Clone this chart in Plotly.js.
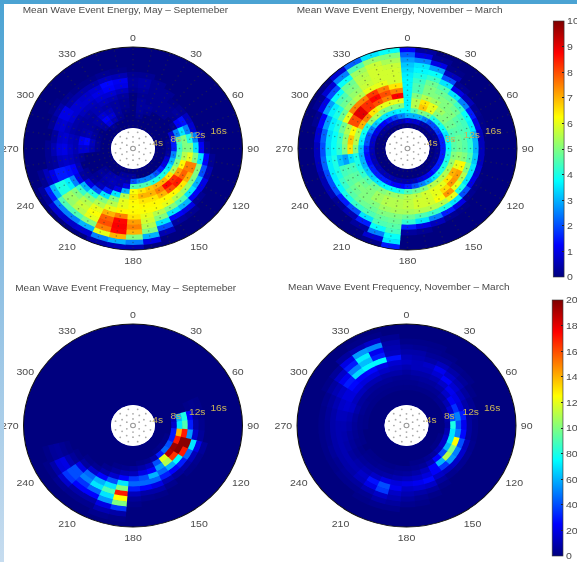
<!DOCTYPE html>
<html><head><meta charset="utf-8">
<script src="https://cdn.plot.ly/plotly-3.0.0.min.js"></script>
<style>
html,body{margin:0;padding:0;background:#fff;overflow:hidden;width:577px;height:562px}
#plot{position:absolute;left:0;top:0;width:535px;height:562px;transform:scaleX(1.0785);transform-origin:0 0;filter:blur(0.65px)}
#top{position:absolute;left:0;top:0;width:577px;height:4px;background:#4ba3d3;z-index:5}
#left{position:absolute;left:0;top:0;width:4px;height:562px;background:linear-gradient(#4ba3d3,#8fc0e3 50%,#c6dcef);z-index:5}
</style></head><body>
<div id="plot"></div><div id="top"></div><div id="left"></div>
<script>
// Ring inner edges (wave period, s) and direction bin centres (deg)
var rings = [4,5,6,7,8,9,10,11,12,13,14,15,16,17,18,19];
var thetas = [0,10,20,30,40,50,60,70,80,90,100,110,120,130,140,150,160,170,180,190,200,210,220,230,240,250,260,270,280,290,300,310,320,330,340,350];
var holeSectors = [0,30,60,90,120,150,180,210,240,270,300,330];
var angleTicks = [0,30,60,90,120,150,180,210,240,270,300,330];
var periodLabels = ['4s','8s','12s','16s'];
var periodR = [4.6,8,12,16];
var holeR = [1.3,1.3,1.3,1.3,1.3,1.3,2.3,2.3,2.3,2.3,2.3,2.3,2.3,2.3,2.3,2.3,2.3,2.3,3.3,3.3,3.3,3.3,3.3,3.3,3.3,3.3,3.3,3.3,3.3,3.3];
var holeT = [0,60,120,180,240,300,0,30,60,90,120,150,180,210,240,270,300,330,15,45,75,105,135,165,195,225,255,285,315,345];

// Mean wave event energy, May - September (row = direction, column = ring)
var energySummer = [
[0,0,0,0,0,0,0,.2,.3,.3,.2,0,0,0,0,0],
[0,0,.2,.3,.3,.3,.2,.3,.4,.4,.2,0,0,0,0,0],
[0,0,0,.2,.3,.2,.2,.2,.2,.2,0,0,0,0,0,0],
[0,0,0,0,.2,.2,.2,.2,.2,0,0,0,0,0,0,0],
[0,0,0,0,.2,.2,.2,.1,0,0,0,0,0,0,0,0],
[0,0,0,0,0,.2,.3,.2,0,0,0,0,0,0,0,0],
[0,0,0,0,.2,1.2,1.4,.6,0,0,0,0,0,0,0,0],
[0,0,0,.8,2.5,3.5,2.5,.8,0,0,0,0,0,0,0,0],
[0,0,.2,1.5,4.5,5,4,2.5,.6,0,0,0,0,0,0,0],
[0,0,.2,1.5,4.3,5,5,3.5,1.2,.2,0,0,0,0,0,0],
[0,0,.3,2.5,4.5,5.5,6,5,3.5,1.2,.2,0,0,0,0,0],
[0,0,.8,3,5,6.3,7.5,7.5,5,2,.5,0,0,0,0,0],
[0,0,1,3.5,5.5,7.2,7.8,7,5,3,1,0,0,0,0,0],
[0,0,1.5,4,6.5,8.3,8.5,6.5,5.3,3.5,1.2,.2,0,0,0,0],
[0,0,2,4,7,8.7,8,6.3,5.5,4.5,3,1,.2,0,0,0],
[0,0,2.5,4,7,7.5,7,6.3,6,5,3.5,1.2,.3,0,0,0],
[0,0,2.5,4.5,6.8,7,6.5,6.3,6.2,5.5,5,3.5,2,.5,0,0],
[0,0,2.5,4.5,6.5,7,6.5,6.3,6.2,6,5.8,5.5,5,3,1,0],
[0,.3,2,4.5,6.2,6.5,6.3,6.2,6.3,6.5,7.2,7.5,7,5,2.5,.5],
[0,.3,.4,1,3,5.5,6,6,6.3,7.5,8.7,8.8,8.7,7,3,.6],
[0,.3,.5,.5,1,3.5,5,5.5,6,7,7.8,8,7.5,6,2.5,.4],
[0,0,.5,.6,.5,1.5,3.5,5,5.5,6,6.2,6,5,3,.8,0],
[0,0,.4,.5,.4,.6,2,4,5,5.5,5.7,5.5,4.5,2.5,.7,0],
[0,0,.2,.3,.2,.3,1,3,4.3,5,5.3,5.2,4.5,2.5,.8,0],
[0,0,0,0,0,.2,.3,1,2.5,3.6,4,4,3,1.5,.3,0],
[0,0,0,0,0,0,.5,1.2,1.4,1.5,1.5,1,.6,.2,0,0],
[0,0,0,0,0,.2,.4,.6,.7,.6,.3,.2,0,0,0,0],
[0,0,.2,.5,.8,.8,.5,.7,1,.9,.5,.2,0,0,0,0],
[0,0,.2,.6,1.3,1.1,.5,.6,.8,.7,.3,0,0,0,0,0],
[0,0,.1,.3,.5,.4,.3,.4,.6,.8,.7,.2,0,0,0,0],
[0,0,0,.2,.3,.3,.3,.4,.8,1,1,.4,.1,0,0,0],
[0,0,.3,.4,.4,.3,.4,.6,.8,.8,.4,.2,0,0,0,0],
[0,.2,.9,1.2,.8,.5,.5,.6,.8,.7,.4,.1,0,0,0,0],
[0,0,.5,.8,.6,.4,.6,.8,1,.8,.4,.1,0,0,0,0],
[0,0,.2,.3,.3,.3,.5,.8,1.2,1.3,.6,.2,0,0,0,0],
[0,0,0,.1,.2,.2,.3,.6,1,1.1,.5,.1,0,0,0,0]
];

// Mean wave event energy, November - March
var energyWinter = [
[0,1,3,3.7,3.7,3.7,3.7,3.7,3.7,3.7,3.6,3.4,3.2,2.8,2.2,1.2],
[0,.8,3,4.5,5.5,5.5,5,4.5,4.5,4.3,4,3.7,3.5,2.5,1,.3],
[0,.8,3,5,6.8,6.5,5.5,5,5,4.8,4.3,3.8,2.8,1,.2,0],
[0,.4,2.5,4.8,6,6,5.3,5,4.8,4.5,3.5,2,.6,.1,0,0],
[0,.3,2,4,5,5.3,5,5,4.7,3.5,1,.2,0,0,0,0],
[0,.3,2,4,5,5,5,4.8,4.3,2.5,.6,0,0,0,0,0],
[0,.2,1.8,3.8,4.8,4.8,4.6,4.4,3.8,1.5,.2,0,0,0,0,0],
[0,.2,1.5,3.5,4.5,4.6,4.5,4.4,3.6,1,.1,0,0,0,0,0],
[0,.2,1.5,3.8,4.6,4.8,4.6,4.2,3,.6,0,0,0,0,0,0],
[0,.2,1.5,3.8,4.6,4.8,4.6,4.2,3,.6,0,0,0,0,0,0],
[0,.2,1.5,4,5,5.2,5,4.5,3.2,.6,0,0,0,0,0,0],
[0,.2,1.5,4,5.2,6,6.3,5,3.5,.8,0,0,0,0,0,0],
[0,.2,1.5,4,5.4,7,7.2,5.5,3.5,1,.1,0,0,0,0,0],
[0,.2,1.5,4,5.5,6.5,7.3,6,4,2,.2,0,0,0,0,0],
[0,.1,1.2,3.5,5.5,6,6.6,7.3,6,3.5,1,.1,0,0,0,0],
[0,.1,1,3,5.5,6,6,6.2,5.5,4,1.5,.2,0,0,0,0],
[0,0,.8,2.5,5,5.8,5.8,5.8,5.5,4.3,2.5,.6,0,0,0,0],
[0,0,.5,2,4.8,5.6,5.8,5.8,5.5,4.5,3.5,1,.2,0,0,0],
[0,0,.4,1.5,4.5,5.5,5.6,5.6,5.4,4.8,4.2,1.5,.3,0,0,0],
[0,0,.4,1.2,4,5.3,5.5,5.5,5.4,5,4.8,4.6,4.4,3.8,3.5,1.5],
[0,0,.4,1.2,3.8,5.2,5.5,5.5,5.3,5,4.7,4.5,3.8,2.5,.8,.1],
[0,0,.5,1.5,3.7,5,5.3,5.3,5,4.8,4.5,3.5,1.5,.3,0,0],
[0,0,.5,1.5,3.5,4.8,5,5,5,4.8,4.3,2,.5,0,0,0],
[0,0,.5,1.5,3.3,4.5,4.8,5,4.8,4.6,4,1.5,.2,0,0,0],
[0,0,.5,1.5,3.2,4.2,4.6,4.7,4.6,4.3,3.7,2,.5,0,0,0],
[0,0,.5,1.3,3,4,4.4,4.5,4.4,4,3.6,2,.5,0,0,0],
[0,0,.5,1.3,3,4,3.5,2.8,3.2,4,3.6,2.2,.6,0,0,0],
[0,0,.6,1.5,3.2,5,6.5,5,4.2,3.8,3.4,2,.6,0,0,0],
[0,0,.7,2,3.6,5.5,6.8,5.2,4.3,3.8,3.4,2.2,.8,0,0,0],
[0,0,.8,2,3.8,5.5,6.3,5.5,4.8,4,3.6,2.8,1.2,.2,0,0],
[0,.2,1,2.5,4,7,8,8,6,4.8,4,3.6,2.8,1,.2,0],
[0,.2,1,3.2,5.2,7.5,9,9,7.5,5.2,4.8,4.5,3.8,2,.8,.1],
[0,.3,1.2,3.5,5.5,6.5,8.3,8.3,7.5,5.5,5.2,5,4.8,3.8,2.5,.8],
[0,.4,1.5,3.5,5,6,8,8.7,8.2,6,5.7,5.6,5.5,5.3,4.5,2.2],
[0,.5,2,3.5,5,6,7.5,8,7.5,6,5.8,5.8,5.8,5.7,5.2,3.5],
[0,.6,2.5,3.7,5,6,8.8,7.5,6.5,5.8,5.8,5.8,5.7,5.4,5,3.8]
];

// Mean wave event frequency, May - September
var freqSummer = [
[0,0,0,0,0,0,0,0,0,0,0,0,0,0,0,0],
[0,0,0,0,0,0,0,0,0,0,0,0,0,0,0,0],
[0,0,0,0,0,0,0,0,0,0,0,0,0,0,0,0],
[0,0,0,0,0,0,0,0,0,0,0,0,0,0,0,0],
[0,0,0,0,0,0,0,0,0,0,0,0,0,0,0,0],
[0,0,0,0,0,0,0,0,0,0,0,0,0,0,0,0],
[0,0,0,0,0,0,0,0,0,0,0,0,0,0,0,0],
[0,0,0,0,0,0,2,3,2,0,0,0,0,0,0,0],
[0,0,0,10,60,80,25,5,2,0,0,0,0,0,0,0],
[0,0,0,15,70,90,30,8,3,0,0,0,0,0,0,0],
[0,0,0,30,140,170,55,15,5,0,0,0,0,0,0,0],
[0,0,2,30,170,198,198,70,20,5,0,0,0,0,0,0],
[0,0,2,40,195,198,170,45,12,3,0,0,0,0,0,0],
[0,0,3,45,190,165,75,30,8,2,0,0,0,0,0,0],
[0,0,2,30,120,110,60,25,6,0,0,0,0,0,0,0],
[0,0,0,8,40,55,45,30,10,3,0,0,0,0,0,0],
[0,0,0,3,12,25,60,45,20,8,2,0,0,0,0,0],
[0,0,0,2,8,20,40,45,25,8,3,0,0,0,0,0],
[0,0,0,0,5,12,35,45,30,12,5,2,0,0,0,0],
[0,0,0,0,3,10,25,70,100,170,125,100,35,8,2,0],
[0,0,0,0,2,6,15,40,70,90,70,55,20,10,3,0],
[0,0,0,0,0,3,8,25,60,70,45,25,8,3,0,0],
[0,0,0,0,0,0,4,15,45,50,35,25,8,3,0,0],
[0,0,0,0,0,0,2,6,20,40,40,35,15,4,0,0],
[0,0,0,0,0,0,0,2,5,10,20,18,8,2,0,0],
[0,0,0,0,0,0,0,0,2,4,6,5,2,0,0,0],
[0,0,0,0,0,0,0,0,0,0,0,0,0,0,0,0],
[0,0,0,0,0,0,0,0,0,0,0,0,0,0,0,0],
[0,0,0,0,0,0,0,0,0,0,0,0,0,0,0,0],
[0,0,0,0,0,0,0,0,0,0,0,0,0,0,0,0],
[0,0,0,0,0,0,0,0,0,0,0,0,0,0,0,0],
[0,0,0,0,0,0,0,0,0,0,0,0,0,0,0,0],
[0,0,0,0,0,0,0,0,0,0,0,0,0,0,0,0],
[0,0,0,0,0,0,0,0,0,0,0,0,0,0,0,0],
[0,0,0,0,0,0,0,0,0,0,0,0,0,0,0,0],
[0,0,0,0,0,0,0,0,0,0,0,0,0,0,0,0]
];

// Mean wave event frequency, November - March
var freqWinter = [
[0,0,0,2,3,4,6,10,14,12,8,5,2,0,0,0],
[0,0,0,2,3,5,8,12,12,10,8,4,2,0,0,0],
[0,0,0,2,4,6,8,12,14,8,5,3,2,0,0,0],
[0,0,0,2,4,6,10,16,22,12,5,2,0,0,0,0],
[0,0,0,2,4,8,14,24,14,8,3,0,0,0,0,0],
[0,0,0,3,6,14,22,16,10,5,2,0,0,0,0,0],
[0,0,0,3,10,24,20,12,6,2,0,0,0,0,0,0],
[0,0,0,4,16,34,18,8,4,0,0,0,0,0,0,0],
[0,0,0,8,40,50,30,6,3,0,0,0,0,0,0,0],
[0,0,0,6,80,40,22,6,2,0,0,0,0,0,0,0],
[0,0,0,10,70,50,26,6,2,0,0,0,0,0,0,0],
[0,0,2,14,70,125,40,12,3,0,0,0,0,0,0,0],
[0,0,2,14,60,100,50,15,4,0,0,0,0,0,0,0],
[0,0,2,10,40,110,55,14,4,0,0,0,0,0,0,0],
[0,0,0,6,25,60,35,12,3,0,0,0,0,0,0,0],
[0,0,0,4,10,25,24,14,6,2,0,0,0,0,0,0],
[0,0,0,2,5,12,18,26,14,6,2,0,0,0,0,0],
[0,0,0,2,4,8,14,22,16,8,4,2,0,0,0,0],
[0,0,0,0,3,6,12,20,14,10,6,3,0,0,0,0],
[0,0,0,0,3,5,10,18,22,14,10,6,3,0,0,0],
[0,0,0,0,2,4,8,20,40,36,14,8,3,0,0,0],
[0,0,0,0,2,4,7,14,28,20,10,4,2,0,0,0],
[0,0,0,0,2,3,6,10,14,12,6,3,0,0,0,0],
[0,0,0,0,2,3,5,8,10,8,5,3,0,0,0,0],
[0,0,0,0,0,2,4,6,10,8,4,2,0,0,0,0],
[0,0,0,0,2,3,5,8,10,8,5,2,0,0,0,0],
[0,0,0,0,2,4,6,9,10,8,4,2,0,0,0,0],
[0,0,0,2,3,5,8,10,10,8,4,2,0,0,0,0],
[0,0,0,2,3,6,10,12,12,8,5,2,0,0,0,0],
[0,0,0,2,4,8,14,16,14,10,6,3,0,0,0,0],
[0,0,0,2,4,6,12,18,18,14,10,6,2,0,0,0],
[0,0,0,2,3,6,12,20,26,30,22,14,5,0,0,0],
[0,0,0,2,3,5,10,18,24,68,50,30,20,6,0,0],
[0,0,0,2,3,5,10,18,26,74,62,72,55,10,2,0],
[0,0,0,2,3,5,8,14,20,74,30,22,52,14,2,0],
[0,0,0,2,3,4,8,12,16,28,12,10,8,4,0,0]
];

var jet = [[0,'#00007f'],[0.125,'#0000ff'],[0.375,'#00ffff'],[0.625,'#ffff00'],[0.875,'#ff0000'],[1,'#7f0000']];
var textColor = '#4a4a4a', font = 'Liberation Sans, Arial, sans-serif';
var S = 1.0785, W = 577 / S, H = 562, Rp = 101.5;
var panels = [
  {key:'polar',  data:energySummer, ca:'coloraxis',  cx:133,   cy:148.5, dots:true,  title:'Mean Wave Event Energy, May \u2013 Septemeber',      tx:125.5, ty:10},
  {key:'polar2', data:energyWinter, ca:'coloraxis',  cx:407.5, cy:148.5, dots:true,  title:'Mean Wave Event Energy, November \u2013 March',      tx:400,   ty:10},
  {key:'polar3', data:freqSummer,   ca:'coloraxis2', cx:133,   cy:425.5, dots:false, title:'Mean Wave Event Frequency, May \u2013 Septemeber',   tx:125.5, ty:288},
  {key:'polar4', data:freqWinter,   ca:'coloraxis2', cx:406.5, cy:425.5, dots:false, title:'Mean Wave Event Frequency, November \u2013 March',   tx:399,   ty:287}
];
var traces = [], annotations = [];
var layout = {
  width: W, height: H, margin:{l:0,r:0,t:0,b:0,autoexpand:false}, paper_bgcolor:'#ffffff', showlegend:false,
  font:{family:font,color:textColor,size:9.8},
  coloraxis:{cmin:0,cmax:10,colorscale:jet,colorbar:{x:553/S/W,xanchor:'left',xpad:0,ypad:0,y:1-149/H,yanchor:'middle',len:256/H,thickness:10,tick0:0,dtick:1,ticks:'inside',ticklen:2,tickcolor:'#222',outlinewidth:0.6,outlinecolor:'#333',tickfont:{size:9.8,color:textColor,family:font}}},
  coloraxis2:{cmin:0,cmax:200,colorscale:jet,colorbar:{x:552/S/W,xanchor:'left',xpad:0,ypad:0,y:1-428/H,yanchor:'middle',len:256/H,thickness:10,tick0:0,dtick:20,ticks:'inside',ticklen:2,tickcolor:'#222',outlinewidth:0.6,outlinecolor:'#333',tickfont:{size:9.8,color:textColor,family:font}}},
  annotations: annotations
};
panels.forEach(function(p){
  var th=[], base=[], r=[], c=[], dt=[], dr=[];
  thetas.forEach(function(t,i){ rings.forEach(function(g,j){
    var v=p.data[i][j];
    if(v>0){ th.push(t); base.push(g); r.push(1.12); c.push(v); }
    dt.push(t); dr.push(g+0.5);
  });});
  var sub = p.key;
  var cpx = p.cx/S;
  layout[sub] = {
    domain:{x:[(cpx-Rp)/W,(cpx+Rp)/W], y:[1-(p.cy+Rp)/H,1-(p.cy-Rp)/H]},
    bgcolor:'#00007f', bargap:0, barmode:'overlay',
    radialaxis:{range:[0,20],visible:false},
    angularaxis:{rotation:90,direction:'clockwise',tickmode:'array',tickvals:angleTicks,ticktext:angleTicks.map(String),ticks:'outside',ticklen:2,tickcolor:'rgba(0,0,0,0)',showgrid:false,showline:true,linecolor:'#111',linewidth:1,tickfont:{size:9.8,color:textColor,family:font}}
  };
  traces.push({type:'barpolar',subplot:sub,theta:th,r:r,base:base,width:11.6,hoverinfo:'skip',
    marker:{color:c,coloraxis:p.ca,line:{width:0}}});
  traces.push({type:'barpolar',subplot:sub,theta:holeSectors,r:holeSectors.map(function(){return rings[0];}),base:holeSectors.map(function(){return 0;}),width:60,hoverinfo:'skip',
    marker:{color:'#ffffff',line:{width:0}}});
  if(p.dots) traces.push({type:'scatterpolar',subplot:sub,mode:'markers',theta:dt,r:dr,hoverinfo:'skip',
    marker:{size:1.5,color:'#333',opacity:0.45}});
  traces.push({type:'scatterpolar',subplot:sub,mode:'markers',theta:holeT,r:holeR,hoverinfo:'skip',
    marker:{size:1.7,color:'#aaa'}});
  traces.push({type:'scatterpolar',subplot:sub,mode:'markers',theta:[0],r:[0],hoverinfo:'skip',
    marker:{size:4.5,color:'#fff',line:{color:'#999',width:1}}});
  traces.push({type:'scatterpolar',subplot:sub,mode:'text',theta:periodR.map(function(){return 78;}),r:periodR,text:periodLabels,hoverinfo:'skip',
    textposition:'middle center',textfont:{size:9.5,color:'#c9b458',family:font}});
  annotations.push({xref:'paper',yref:'paper',x:p.tx/S/W,y:1-p.ty/H,xanchor:'center',yanchor:'middle',showarrow:false,text:p.title,font:{size:9.3,color:textColor,family:font}});
});
Plotly.newPlot('plot',traces,layout,{displayModeBar:false,staticPlot:true});
</script>
</body></html>
